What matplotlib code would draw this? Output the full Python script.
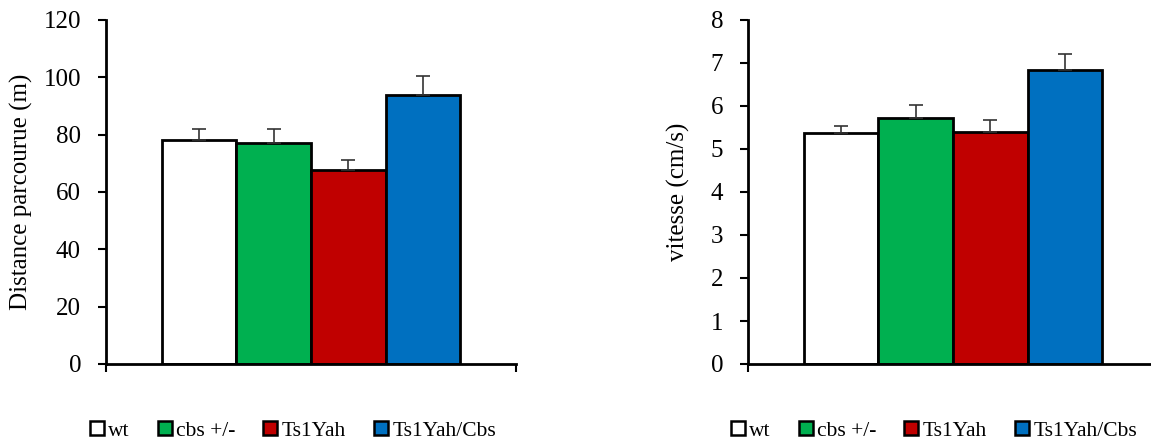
import matplotlib.pyplot as plt
from matplotlib.patches import Patch

# groups and colours
groups = ['wt', 'cbs +/-', 'Ts1Yah', 'Ts1Yah/Cbs']
colors = ['#FFFFFF', '#00B050', '#C00000', '#0070C0']

# distance (m)
distance = [78.2, 77.0, 67.6, 94.0]
distance_err = [3.7, 5.0, 3.7, 6.3]

# speed (cm/s)
vitesse = [5.37, 5.71, 5.39, 6.84]
vitesse_err = [0.17, 0.31, 0.29, 0.36]

plt.rcParams['font.family'] = ['Liberation Serif', 'DejaVu Serif']

fig = plt.figure(figsize=(11.51, 4.41), dpi=100)
ax1 = fig.add_axes([106 / 1151, 1 - 364 / 441, 410 / 1151, 344 / 441])
ax2 = fig.add_axes([748 / 1151, 1 - 364 / 441, 410 / 1151, 344 / 441])


def draw(ax, values, errs, ymax, ystep, ylabel):
    x = list(range(len(values)))
    ax.bar(x, values, width=1.0, color=colors, edgecolor='black', linewidth=2, zorder=2)
    ax.errorbar(x, values, yerr=[[0] * len(errs), errs], fmt='none',
                ecolor='#333333', elinewidth=1.2, capsize=5, capthick=1.2, zorder=3)
    ax.set_xlim(-1.25, 4.25)
    ax.set_ylim(0, ymax)
    ax.set_yticks([i * ystep for i in range(int(ymax / ystep) + 1)])
    ax.set_xticks([-1.25, 4.25])
    ax.set_xticklabels([])
    ax.tick_params(axis='y', labelsize=18, length=6, width=1.5, pad=12)
    ax.tick_params(axis='x', length=6, width=1.5)
    for s in ['top', 'right']:
        ax.spines[s].set_visible(False)
    ax.spines['left'].set_linewidth(2)
    ax.spines['bottom'].set_linewidth(2)
    ax.spines['bottom'].set_zorder(4)
    ax.set_ylabel(ylabel, fontsize=18)


draw(ax1, distance, distance_err, 120, 20, 'Distance parcourue (m)')
draw(ax2, vitesse, vitesse_err, 8, 1, 'vitesse (cm/s)')
ax1.yaxis.set_label_coords(-0.178, 0.5)
ax2.yaxis.set_label_coords(-0.141, 0.5)

handles = [Patch(facecolor=c, edgecolor='black', linewidth=1.8) for c in colors]
for cx in [293 / 1151, 934 / 1151]:
    fig.legend(handles, groups, loc='center', bbox_to_anchor=(cx, 1 - 431 / 441),
               ncol=4, frameon=False, fontsize=15.5, handlelength=0.65, handleheight=0.65,
               handletextpad=0.2, columnspacing=1.3, borderaxespad=0)

fig.savefig('out.png', dpi=100)
